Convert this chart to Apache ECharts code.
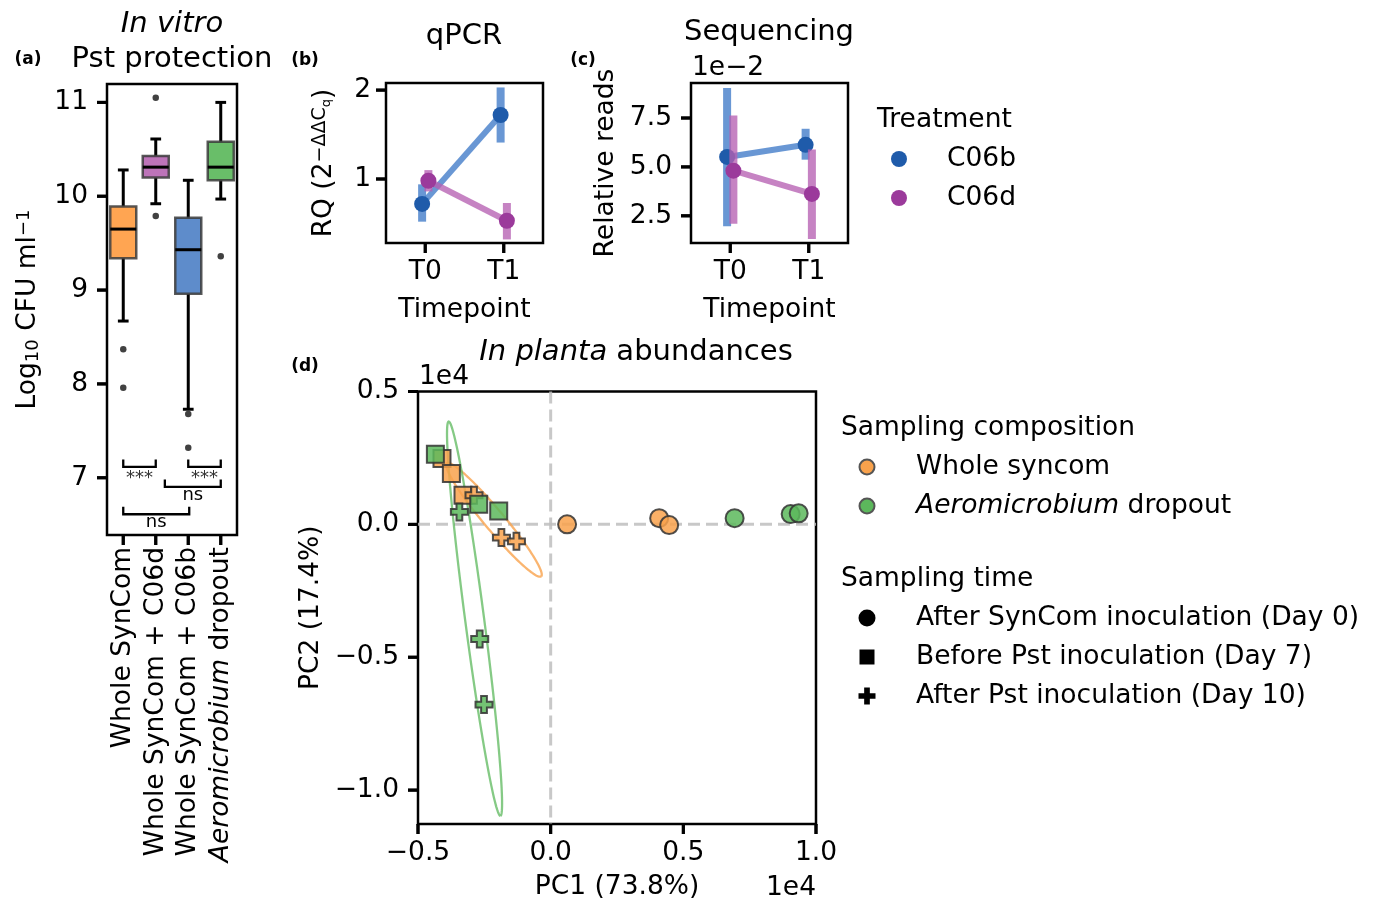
<!DOCTYPE html>
<html>
<head>
<meta charset="utf-8">
<title>Pst protection figure</title>
<script src="https://cdn.jsdelivr.net/npm/echarts@6.0.0/dist/echarts.min.js"></script>
<style>
html,body{margin:0;padding:0;background:#ffffff;}
#chart{width:1375px;height:902px;}
</style>
</head>
<body>
<div id="chart"></div>
<script>
// ===== Panel (a): in vitro Pst protection (box plot) =====
const boxCategories = ['Whole SynCom', 'Whole SynCom + C06d', 'Whole SynCom + C06b', 'Aeromicrobium dropout'];
const boxWhiskerLow  = [8.67, 9.92, 7.73, 9.97];
const boxQ1          = [9.34, 10.20, 8.96, 10.17];
const boxMedian      = [9.65, 10.31, 9.43, 10.31];
const boxQ3          = [9.89, 10.43, 9.77, 10.58];
const boxWhiskerHigh = [10.28, 10.61, 10.17, 11.00];
const boxOutlierGroup = [0, 0, 1, 1, 2, 2, 3];
const boxOutlierValue = [8.37, 7.96, 11.05, 9.79, 7.68, 7.32, 9.36];
const boxXTicks = [0, 1, 2, 3];
const boxYTicks = [7, 8, 9, 10, 11];
// significance brackets
const sigFrom  = [0, 2, 1.28, 0];
const sigTo    = [1, 3, 3, 2.03];
const sigLevel = [7.195, 7.195, 6.982, 6.69];
const sigText  = ['***', '***', 'ns', 'ns'];

// ===== Panels (b) and (c): treatments over timepoints =====
const timepoints = ['T0', 'T1'];
const timeTicks = [0, 1];
const treatments = ['C06b', 'C06d'];
const qpcrC06bMean = [0.72, 1.72];
const qpcrC06bLow  = [0.52, 1.41];
const qpcrC06bHigh = [0.94, 2.03];
const qpcrC06dMean = [0.98, 0.53];
const qpcrC06dLow  = [0.86, 0.32];
const qpcrC06dHigh = [1.10, 0.73];
const qpcrYTicks = [1, 2];
const seqC06bMean = [0.0551, 0.0613];
const seqC06bLow  = [0.0196, 0.0537];
const seqC06bHigh = [0.0904, 0.0695];
const seqC06dMean = [0.0481, 0.0362];
const seqC06dLow  = [0.0210, 0.0131];
const seqC06dHigh = [0.0763, 0.0589];
const seqYTicks = [0.025, 0.05, 0.075];

// ===== Panel (d): in planta PCA =====
const compositions = ['Whole syncom', 'Aeromicrobium dropout'];
const samplingTimes = ['After SynCom inoculation (Day 0)', 'Before Pst inoculation (Day 7)', 'After Pst inoculation (Day 10)'];
const pcaWholeDay0  = [[619, 0], [4089, 234], [4466, -26]];
const pcaWholeDay7  = [[-4096, 2479], [-3742, 1914], [-3304, 1096]];
const pcaWholeDay10 = [[-2889, 1096], [-1856, -497], [-1290, -637]];
const pcaDropDay0   = [[6933, 234], [9045, 388], [9347, 414]];
const pcaDropDay7   = [[-4345, 2641], [-2712, 757], [-1958, 505]];
const pcaDropDay10  = [[-3440, 467], [-2674, -4314], [-2512, -6782]];
// ellipses: [centerX, centerY, halfMajorX, halfMajorY, semiMinor]
const ellipseWhole = [-2139, 173, 1780, -2129, 377];
const ellipseDrop  = [-2869, -3549, 975, -7419, 358];
const pcaXTicks = [-5000, 0, 5000, 10000];
const pcaYTicks = [-10000, -5000, 0, 5000];

// ===== styling =====
const FONT = 'DejaVu Sans';
const FS = 26.5;
const TFS = 29;
const boxColors = ['#FFA552', '#BD74B9', '#5E8CCB', '#69BE69'];
const dotColors = ['#1F5BAA', '#9B3A9B'];
const lineColors = ['rgba(72,128,202,0.82)', 'rgba(182,96,178,0.78)'];
const compColors = ['#F9A24C', '#5CB85C'];
const dodge = [-0.04, 0.04];
const crossPath = 'path://M33,0H67V33H100V67H67V100H33V67H0V33H33Z';
const TICK_LEN = 10;
const TICK_W = 3;

function crossPoints(cx, cy, size) {
  const h = size / 2, a = size / 6;
  return [[cx - a, cy - h], [cx + a, cy - h], [cx + a, cy - a], [cx + h, cy - a], [cx + h, cy + a], [cx + a, cy + a],
          [cx + a, cy + h], [cx - a, cy + h], [cx - a, cy + a], [cx - h, cy + a], [cx - h, cy - a], [cx - a, cy - a]];
}

const chart = echarts.init(document.getElementById('chart'), null, {renderer: 'canvas', width: 1375, height: 902});

const gridBase = {show: true, borderColor: '#000', borderWidth: 2.5, backgroundColor: 'rgba(0,0,0,0)', containLabel: false, outerBoundsMode: 'none'};
const gridRects = [
  {left: 107, top: 84, width: 130, height: 451},
  {left: 386, top: 83, width: 157, height: 160},
  {left: 691, top: 83, width: 157, height: 160},
  {left: 418, top: 391.5, width: 398, height: 432.5}
];
const grids = gridRects.map(function (r) { return Object.assign({}, r, gridBase); });
const axisMinMax = [
  [-0.5, 3.5, 6.39, 11.196], [-0.5, 1.5, 0.28, 2.08], [-0.5, 1.5, 0.0111, 0.0929], [-5000, 10000, -11275, 5000]
];

function txtStyle(extra) {
  return Object.assign({fontFamily: FONT, fontSize: FS, color: '#000'}, extra || {});
}
function valueAxis(gridIndex, isX, ticks, fmt, labelExtra, extra) {
  const m = axisMinMax[gridIndex];
  return Object.assign({
    type: 'value', gridIndex: gridIndex, min: isX ? m[0] : m[2], max: isX ? m[1] : m[3],
    axisLine: {show: false, onZero: false},
    splitLine: {show: false},
    axisTick: {show: false},
    axisLabel: Object.assign({show: true, customValues: ticks, formatter: fmt, margin: 17}, txtStyle(), labelExtra || {}),
    nameTextStyle: txtStyle(),
    nameLocation: 'middle'
  }, extra || {});
}
function fmtE4(v) {
  const s = Math.abs(v / 1e4).toFixed(1);
  return v < 0 ? '\u2212' + s : s;
}

const xAxes = [
  valueAxis(0, true, boxXTicks, function (v) {
    const k = Math.round(v);
    return k === 3 ? '{i|Aeromicrobium} dropout' : boxCategories[k];
  }, {rotate: 90, margin: 12, rich: {i: txtStyle({fontStyle: 'italic'})}}),
  valueAxis(1, true, timeTicks, function (v) { return timepoints[Math.round(v)]; }, {margin: 16}, {name: 'Timepoint', nameGap: 54}),
  valueAxis(2, true, timeTicks, function (v) { return timepoints[Math.round(v)]; }, {margin: 16}, {name: 'Timepoint', nameGap: 54}),
  valueAxis(3, true, pcaXTicks, fmtE4, {margin: 16}, {name: 'PC1 (73.8%)', nameGap: 50})
];
const yAxes = [
  valueAxis(0, false, boxYTicks, function (v) { return String(v); }, {margin: 19}, {
    name: '{n|Log}{sb|10}{n| CFU ml}{sp|\u22121}', nameGap: 65,
    nameTextStyle: txtStyle({rich: {
      n: txtStyle({verticalAlign: 'bottom'}),
      sb: txtStyle({fontSize: 18, verticalAlign: 'bottom'}),
      sp: txtStyle({fontSize: 18, verticalAlign: 'top'})
    }})
  }),
  valueAxis(1, false, qpcrYTicks, function (v) { return String(v); }, {margin: 15}, {
    name: '{n|RQ (2}{s|\u2212\u0394\u0394C}{q|q}{n|)}', nameGap: 48,
    nameTextStyle: txtStyle({rich: {
      n: txtStyle({verticalAlign: 'bottom'}),
      s: txtStyle({fontSize: 19, verticalAlign: 'top'}),
      q: txtStyle({fontSize: 13, verticalAlign: 'top', padding: [9, 0, 0, 0]})
    }})
  }),
  valueAxis(2, false, seqYTicks, function (v) { return (v * 100).toFixed(1); }, {margin: 19}, {name: 'Relative reads', nameGap: 71}),
  valueAxis(3, false, pcaYTicks, fmtE4, {margin: 19}, {name: 'PC2 (17.4%)', nameGap: 93})
];

const series = [];

// ---- tick marks through each grid's scale (in-range data, drawn outward) ----
function tickSeries(idx, xTicks, yTicks) {
  const m = axisMinMax[idx];
  const data = xTicks.map(function (v) { return [v, m[2], 0]; }).concat(yTicks.map(function (v) { return [m[0], v, 1]; }));
  series.push({
    type: 'custom', xAxisIndex: idx, yAxisIndex: idx, z: 6, silent: true, clip: false,
    data: data,
    renderItem: function (params, api) {
      const p = api.coord([api.value(0), api.value(1)]);
      if (api.value(2) === 0) {
        return {type: 'rect', shape: {x: p[0] - TICK_W / 2, y: p[1], width: TICK_W, height: TICK_LEN}, style: {fill: '#000'}};
      }
      return {type: 'rect', shape: {x: p[0] - TICK_LEN, y: p[1] - TICK_W / 2, width: TICK_LEN, height: TICK_W}, style: {fill: '#000'}};
    }
  });
}
tickSeries(0, boxXTicks, boxYTicks);
tickSeries(1, timeTicks, qpcrYTicks);
tickSeries(2, timeTicks, seqYTicks);
tickSeries(3, pcaXTicks, pcaYTicks);

// ---- (a) boxes ----
series.push({
  type: 'custom', xAxisIndex: 0, yAxisIndex: 0, z: 2, silent: true,
  data: boxCategories.map(function (c, i) { return [i, boxWhiskerLow[i], boxQ1[i], boxMedian[i], boxQ3[i], boxWhiskerHigh[i]]; }),
  renderItem: function (params, api) {
    const i = api.value(0);
    const pLo = api.coord([i, api.value(1)]);
    const pQ1 = api.coord([i, api.value(2)]);
    const pMed = api.coord([i, api.value(3)]);
    const pQ3 = api.coord([i, api.value(4)]);
    const pHi = api.coord([i, api.value(5)]);
    const w = api.size([0.8, 0])[0];
    const cw = api.size([0.33, 0])[0];
    const x = pMed[0];
    const ls = {stroke: '#000', lineWidth: 3};
    return {type: 'group', children: [
      {type: 'line', shape: {x1: x, y1: pQ3[1], x2: x, y2: pHi[1]}, style: ls},
      {type: 'line', shape: {x1: x, y1: pQ1[1], x2: x, y2: pLo[1]}, style: ls},
      {type: 'line', shape: {x1: x - cw / 2, y1: pHi[1], x2: x + cw / 2, y2: pHi[1]}, style: ls},
      {type: 'line', shape: {x1: x - cw / 2, y1: pLo[1], x2: x + cw / 2, y2: pLo[1]}, style: ls},
      {type: 'rect', shape: {x: x - w / 2, y: pQ3[1], width: w, height: pQ1[1] - pQ3[1]},
        style: {fill: boxColors[params.dataIndex], stroke: 'rgba(60,60,60,0.85)', lineWidth: 2.5}},
      {type: 'line', shape: {x1: x - w / 2, y1: pMed[1], x2: x + w / 2, y2: pMed[1]}, style: ls}
    ]};
  }
});
series.push({
  type: 'scatter', xAxisIndex: 0, yAxisIndex: 0, z: 3, silent: true,
  symbol: 'circle', symbolSize: 6.5, itemStyle: {color: '#111'},
  data: boxOutlierGroup.map(function (g, k) { return [g, boxOutlierValue[k]]; })
});
// ---- (a) significance brackets ----
series.push({
  type: 'custom', xAxisIndex: 0, yAxisIndex: 0, z: 3, silent: true,
  data: sigFrom.map(function (f, k) { return [f, sigTo[k], sigLevel[k]]; }),
  renderItem: function (params, api) {
    const a = api.coord([api.value(0), api.value(2)]);
    const b = api.coord([api.value(1), api.value(2)]);
    const leg = 7.4;
    const label = sigText[params.dataIndex];
    const star = label === '***';
    const ls = {stroke: '#000', lineWidth: 2.3};
    return {type: 'group', children: [
      {type: 'polyline', shape: {points: [[a[0], a[1]], [a[0], a[1] + leg], [b[0], b[1] + leg], [b[0], b[1]]]}, style: Object.assign({fill: null}, ls)},
      {type: 'text', x: (a[0] + b[0]) / 2, y: a[1] + leg + (star ? 11 : 8),
        style: {text: label, fontFamily: FONT, fontSize: 18, fill: star ? '#333' : '#000', align: 'center', verticalAlign: 'middle'}}
    ]};
  }
});

// ---- (b) and (c) point plots ----
function pointSeries(axisIdx, k, mean, low, high) {
  series.push({
    type: 'custom', xAxisIndex: axisIdx, yAxisIndex: axisIdx, z: 2 + k, silent: true,
    data: low.map(function (l, i) { return [i + dodge[k], l, high[i]]; }),
    renderItem: function (params, api) {
      const p1 = api.coord([api.value(0), api.value(1)]);
      const p2 = api.coord([api.value(0), api.value(2)]);
      return {type: 'line', shape: {x1: p1[0], y1: p1[1], x2: p2[0], y2: p2[1]}, style: {stroke: lineColors[k], lineWidth: 8}};
    }
  });
  series.push({
    type: 'line', name: treatments[k], xAxisIndex: axisIdx, yAxisIndex: axisIdx, z: 2 + k, silent: true,
    data: mean.map(function (m, i) { return [i + dodge[k], m]; }),
    symbol: 'circle', symbolSize: 16, showSymbol: true,
    itemStyle: {color: dotColors[k], opacity: 1},
    lineStyle: {color: lineColors[k], width: 6}
  });
}
pointSeries(1, 0, qpcrC06bMean, qpcrC06bLow, qpcrC06bHigh);
pointSeries(1, 1, qpcrC06dMean, qpcrC06dLow, qpcrC06dHigh);
pointSeries(2, 0, seqC06bMean, seqC06bLow, seqC06bHigh);
pointSeries(2, 1, seqC06dMean, seqC06dLow, seqC06dHigh);

// ---- (d) zero reference lines ----
series.push({
  type: 'custom', xAxisIndex: 3, yAxisIndex: 3, z: 1, silent: true,
  data: [[0, 0]],
  renderItem: function (params, api) {
    const c = api.coord([0, 0]);
    const st = {stroke: 'rgba(190,190,190,0.85)', lineWidth: 3, lineDash: [12, 6]};
    return {type: 'group', children: [
      {type: 'line', shape: {x1: c[0], y1: params.coordSys.y, x2: c[0], y2: params.coordSys.y + params.coordSys.height}, style: st},
      {type: 'line', shape: {x1: params.coordSys.x, y1: c[1], x2: params.coordSys.x + params.coordSys.width, y2: c[1]}, style: st}
    ]};
  }
});
// ---- (d) ellipses ----
[ellipseWhole, ellipseDrop].forEach(function (e, k) {
  series.push({
    type: 'custom', xAxisIndex: 3, yAxisIndex: 3, z: 2, silent: true,
    data: [e],
    renderItem: function (params, api) {
      const cx = api.value(0), cy = api.value(1), ax = api.value(2), ay = api.value(3), b = api.value(4);
      const L = Math.sqrt(ax * ax + ay * ay);
      const ux = -ay / L, uy = ax / L;
      const pts = [];
      for (let s = 0; s <= 144; s++) {
        const t = 2 * Math.PI * s / 144;
        pts.push(api.coord([cx + ax * Math.cos(t) + ux * b * Math.sin(t), cy + ay * Math.cos(t) + uy * b * Math.sin(t)]));
      }
      return {type: 'polyline', shape: {points: pts}, style: {fill: null, stroke: k === 0 ? 'rgba(249,162,76,0.8)' : 'rgba(92,184,92,0.75)', lineWidth: 2.3}};
    }
  });
});
// ---- (d) samples ----
const pcaGroups = [
  [pcaWholeDay0, 0, 'circle', 18], [pcaWholeDay7, 0, 'rect', 17], [pcaWholeDay10, 0, crossPath, 17],
  [pcaDropDay0, 1, 'circle', 18], [pcaDropDay7, 1, 'rect', 17], [pcaDropDay10, 1, crossPath, 17]
];
pcaGroups.forEach(function (g, k) {
  series.push({
    type: 'scatter', xAxisIndex: 3, yAxisIndex: 3, z: 3 + k, silent: true,
    data: g[0], symbol: g[2], symbolSize: g[3], symbolKeepAspect: true,
    itemStyle: {color: compColors[g[1]], borderColor: '#333', borderWidth: 2, opacity: 0.85}
  });
});

// ===== text, legends and (fallback) tick marks =====
const graphic = [];
function T(text, x, y, o) {
  graphic.push({type: 'text', x: x, y: y, silent: true, z: 10,
    style: Object.assign({text: text, fill: '#000', fontFamily: FONT, fontSize: FS, align: 'left', verticalAlign: 'middle'}, o || {})});
}
function richStyle(size) {
  return {
    i: {fontFamily: FONT, fontSize: size, fontStyle: 'italic', fill: '#000'},
    n: {fontFamily: FONT, fontSize: size, fill: '#000'}
  };
}
function axisPixel(idx, xv, yv) {
  const r = gridRects[idx], m = axisMinMax[idx];
  return [r.left + (xv - m[0]) / (m[1] - m[0]) * r.width, r.top + r.height - (yv - m[2]) / (m[3] - m[2]) * r.height];
}
function addTicks(idx, xTicks, yTicks) {
  const m = axisMinMax[idx];
  xTicks.forEach(function (v) {
    const p = axisPixel(idx, v, m[2]);
    graphic.push({type: 'rect', silent: true, z: 50, shape: {x: p[0] - TICK_W / 2, y: p[1], width: TICK_W, height: TICK_LEN}, style: {fill: '#000'}});
  });
  yTicks.forEach(function (v) {
    const p = axisPixel(idx, m[0], v);
    graphic.push({type: 'rect', silent: true, z: 50, shape: {x: p[0] - TICK_LEN, y: p[1] - TICK_W / 2, width: TICK_LEN, height: TICK_W}, style: {fill: '#000'}});
  });
}
addTicks(0, boxXTicks, boxYTicks);
addTicks(1, timeTicks, qpcrYTicks);
addTicks(2, timeTicks, seqYTicks);
addTicks(3, pcaXTicks, pcaYTicks);

T('(a)', 28, 60, {fontSize: 17, fontWeight: 'bold', align: 'center'});
T('(b)', 305, 61, {fontSize: 17, fontWeight: 'bold', align: 'center'});
T('(c)', 583, 61, {fontSize: 17, fontWeight: 'bold', align: 'center'});
T('(d)', 305, 367, {fontSize: 17, fontWeight: 'bold', align: 'center'});
T('In vitro', 172, 24, {fontSize: TFS, fontStyle: 'italic', align: 'center'});
T('Pst protection', 172, 59, {fontSize: TFS, align: 'center'});
T('qPCR', 464, 36, {fontSize: TFS, align: 'center'});
T('Sequencing', 769, 32, {fontSize: TFS, align: 'center'});
T('{i|In planta}{n| abundances}', 636, 352, {fontSize: TFS, align: 'center', rich: richStyle(TFS)});
T('1e\u22122', 692, 68);
T('1e4', 419, 377);
T('1e4', 816, 888, {align: 'right'});

// Treatment legend
T('Treatment', 877, 120);
treatments.forEach(function (t, k) {
  graphic.push({type: 'circle', silent: true, z: 10, shape: {cx: 899, cy: 159 + 39 * k, r: 8}, style: {fill: dotColors[k]}});
  T(t, 947, 159 + 39 * k);
});
// Sampling composition legend
T('Sampling composition', 841, 428);
compositions.forEach(function (c, k) {
  const y = 467 + 39 * k;
  graphic.push({type: 'circle', silent: true, z: 10, shape: {cx: 867, cy: y, r: 7.5}, style: {fill: compColors[k], stroke: '#555', lineWidth: 2}});
  const label = k === 1 ? '{i|Aeromicrobium}{n| dropout}' : '{n|' + c + '}';
  T(label, 916, y, {rich: richStyle(FS)});
});
// Sampling time legend
T('Sampling time', 841, 579);
samplingTimes.forEach(function (s, k) {
  const y = 618 + 39 * k;
  if (k === 0) {
    graphic.push({type: 'circle', silent: true, z: 10, shape: {cx: 867, cy: y, r: 8.5}, style: {fill: '#000'}});
  } else if (k === 1) {
    graphic.push({type: 'rect', silent: true, z: 10, shape: {x: 867 - 7.5, y: y - 7.5, width: 15, height: 15}, style: {fill: '#000'}});
  } else {
    graphic.push({type: 'polygon', silent: true, z: 10, shape: {points: crossPoints(867, y, 17)}, style: {fill: '#000'}});
  }
  T(s, 916, y);
});

chart.setOption({
  animation: false,
  backgroundColor: '#ffffff',
  textStyle: {fontFamily: FONT},
  grid: grids,
  xAxis: xAxes,
  yAxis: yAxes,
  series: series,
  graphic: graphic
});
</script>
</body>
</html>
